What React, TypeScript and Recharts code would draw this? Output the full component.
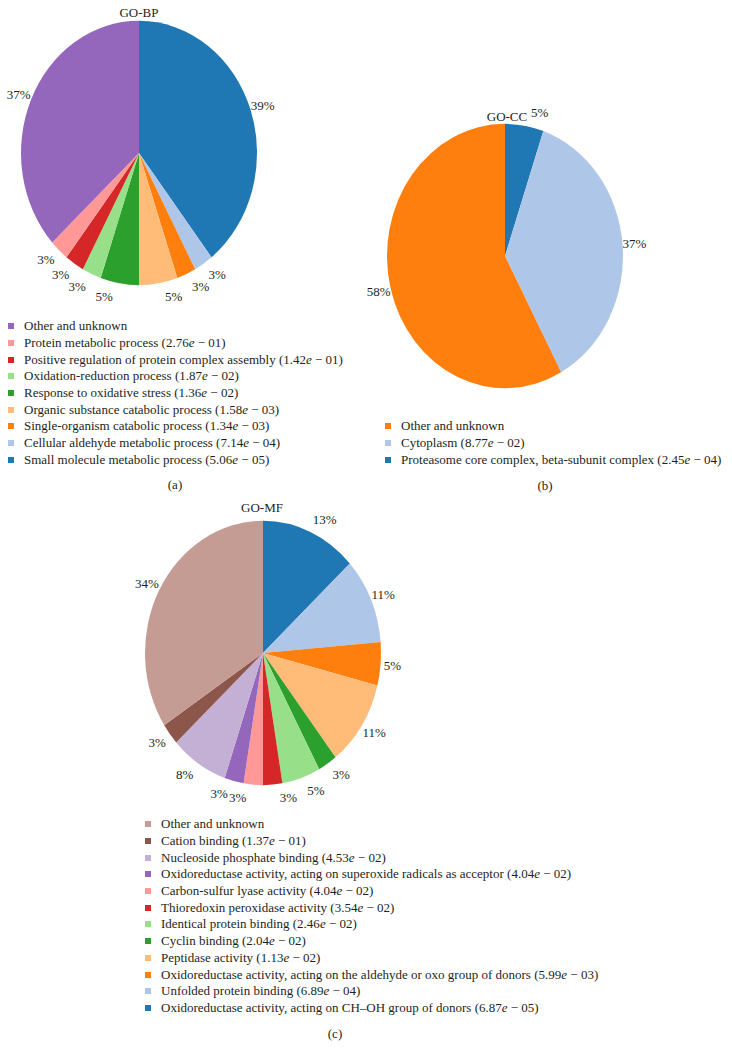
import React from "react";
import { PieChart, Pie, Cell } from "recharts";

// GO-BP (legend order)
const bpTerms = [
  "Other and unknown",
  "Protein metabolic process",
  "Positive regulation of protein complex assembly",
  "Oxidation-reduction process",
  "Response to oxidative stress",
  "Organic substance catabolic process",
  "Single-organism catabolic process",
  "Cellular aldehyde metabolic process",
  "Small molecule metabolic process",
];
const bpPValues = ["", "2.76e − 01", "1.42e − 01", "1.87e − 02", "1.36e − 02", "1.58e − 03", "1.34e − 03", "7.14e − 04", "5.06e − 05"];
const bpCounts = [14, 1, 1, 1, 2, 2, 1, 1, 15];
const bpColors = ["#9467bd", "#ff9896", "#d62728", "#98df8a", "#2ca02c", "#ffbb78", "#ff7f0e", "#aec7e8", "#1f77b4"];

// GO-CC
const ccTerms = ["Other and unknown", "Cytoplasm", "Proteasome core complex, beta-subunit complex"];
const ccPValues = ["", "8.77e − 02", "2.45e − 04"];
const ccCounts = [11, 7, 1];
const ccColors = ["#ff7f0e", "#aec7e8", "#1f77b4"];

// GO-MF
const mfTerms = [
  "Other and unknown",
  "Cation binding",
  "Nucleoside phosphate binding",
  "Oxidoreductase activity, acting on superoxide radicals as acceptor",
  "Carbon-sulfur lyase activity",
  "Thioredoxin peroxidase activity",
  "Identical protein binding",
  "Cyclin binding",
  "Peptidase activity",
  "Oxidoreductase activity, acting on the aldehyde or oxo group of donors",
  "Unfolded protein binding",
  "Oxidoreductase activity, acting on CH–OH group of donors",
];
const mfPValues = ["", "1.37e − 01", "4.53e − 02", "4.04e − 02", "4.04e − 02", "3.54e − 02", "2.46e − 02", "2.04e − 02", "1.13e − 02", "5.99e − 03", "6.89e − 04", "6.87e − 05"];
const mfCounts = [13, 1, 3, 1, 1, 1, 2, 1, 4, 2, 4, 5];
const mfColors = ["#c49c94", "#8c564b", "#c5b0d5", "#9467bd", "#ff9896", "#d62728", "#98df8a", "#2ca02c", "#ffbb78", "#ff7f0e", "#aec7e8", "#1f77b4"];

const FONT = "'Liberation Serif', 'DejaVu Serif', serif";
const INK = "#231f20";
const RAD = Math.PI / 180;
const RY = 1.12; // pies are drawn slightly taller than wide
const R = 118;
const W = 320;
const H = 340;

const EllipseSector = (props: any) => {
  const { cx, cy, outerRadius, startAngle, endAngle, fill } = props;
  const rx = outerRadius;
  const ry = outerRadius * RY;
  const pt = (a: number) => [cx + rx * Math.cos(-a * RAD), cy + ry * Math.sin(-a * RAD)];
  const [x1, y1] = pt(startAngle);
  const [x2, y2] = pt(endAngle);
  const large = Math.abs(endAngle - startAngle) > 180 ? 1 : 0;
  const sweep = startAngle > endAngle ? 1 : 0;
  return (
    <path
      d={`M${cx},${cy} L${x1},${y1} A${rx},${ry} 0 ${large} ${sweep} ${x2},${y2} Z`}
      fill={fill}
      stroke="none"
    />
  );
};

// labels sit just outside the rim; near top/bottom they get pushed sideways a bit
const renderLabel = (p: any) => {
  const { cx, cy, midAngle, outerRadius, percent } = p;
  const dx = Math.cos(-midAngle * RAD);
  const dy = Math.sin(-midAngle * RAD);
  const push = 16 * (1 - Math.abs(dx)) * Math.sign(dx);
  const x = cx + outerRadius * 1.1 * dx + push;
  const y = cy + outerRadius * RY * 1.1 * dy;
  return (
    <text x={x} y={y} textAnchor="middle" dominantBaseline="central" fontFamily={FONT} fontSize={13} fill={INK}>
      {`${Math.round(percent * 100)}%`}
    </text>
  );
};

interface GoPieProps {
  terms: string[];
  counts: number[];
  colors: string[];
  cx: number;
  cy: number;
}

// pie runs clockwise from the top, in reverse legend order
const GoPie = ({ terms, counts, colors, cx, cy }: GoPieProps) => {
  const data = terms.map((name, i) => ({ name, value: counts[i], color: colors[i] })).reverse();
  return (
    <div style={{ position: "absolute", left: cx - W / 2, top: cy - H / 2 }}>
      <PieChart width={W} height={H} margin={{ top: 0, right: 0, bottom: 0, left: 0 }} style={{ overflow: "visible" }}>
        <Pie
          data={data}
          dataKey="value"
          cx={W / 2}
          cy={H / 2}
          outerRadius={R}
          startAngle={90}
          endAngle={-270}
          stroke="none"
          shape={EllipseSector}
          label={renderLabel}
          labelLine={false}
          isAnimationActive={false}
        >
          {data.map((d) => (
            <Cell key={d.name} fill={d.color} />
          ))}
        </Pie>
      </PieChart>
    </div>
  );
};

interface LegendProps {
  terms: string[];
  pvalues: string[];
  colors: string[];
  left: number;
  top: number;
}

const GoLegend = ({ terms, pvalues, colors, left, top }: LegendProps) => (
  <div style={{ position: "absolute", left, top, fontFamily: FONT, fontSize: 13, color: INK, whiteSpace: "nowrap" }}>
    {terms.map((t, i) => {
      const [m, ex] = pvalues[i] ? pvalues[i].split("e") : [];
      return (
        <div key={t} style={{ height: 16.7, display: "flex", alignItems: "center" }}>
          <span style={{ width: 6, height: 6, background: colors[i], marginRight: 10, flex: "none" }} />
          <span>
            {t}
            {pvalues[i] && (
              <>
                {` (${m}`}
                <i>e</i>
                {`${ex})`}
              </>
            )}
          </span>
        </div>
      );
    })}
  </div>
);

const Caption = ({ text, x, y }: { text: string; x: number; y: number }) => (
  <div
    style={{
      position: "absolute",
      left: x - 50,
      top: y - 8,
      width: 100,
      textAlign: "center",
      fontFamily: FONT,
      fontSize: 13,
      lineHeight: "16px",
      color: INK,
    }}
  >
    {text}
  </div>
);

export default function App() {
  return (
    <div style={{ position: "absolute", left: 0, top: 0, width: 732, height: 1060, background: "#fff", overflow: "hidden" }}>
      <Caption text="GO-BP" x={139} y={13} />
      <GoPie terms={bpTerms} counts={bpCounts} colors={bpColors} cx={139} cy={153} />
      <GoLegend terms={bpTerms} pvalues={bpPValues} colors={bpColors} left={8} top={318} />
      <Caption text="(a)" x={175} y={485} />

      <Caption text="GO-CC" x={507} y={117} />
      <GoPie terms={ccTerms} counts={ccCounts} colors={ccColors} cx={505} cy={256} />
      <GoLegend terms={ccTerms} pvalues={ccPValues} colors={ccColors} left={385} top={418} />
      <Caption text="(b)" x={545} y={486} />

      <Caption text="GO-MF" x={262} y={508} />
      <GoPie terms={mfTerms} counts={mfCounts} colors={mfColors} cx={263} cy={653} />
      <GoLegend terms={mfTerms} pvalues={mfPValues} colors={mfColors} left={145} top={816} />
      <Caption text="(c)" x={335} y={1034} />
    </div>
  );
}
